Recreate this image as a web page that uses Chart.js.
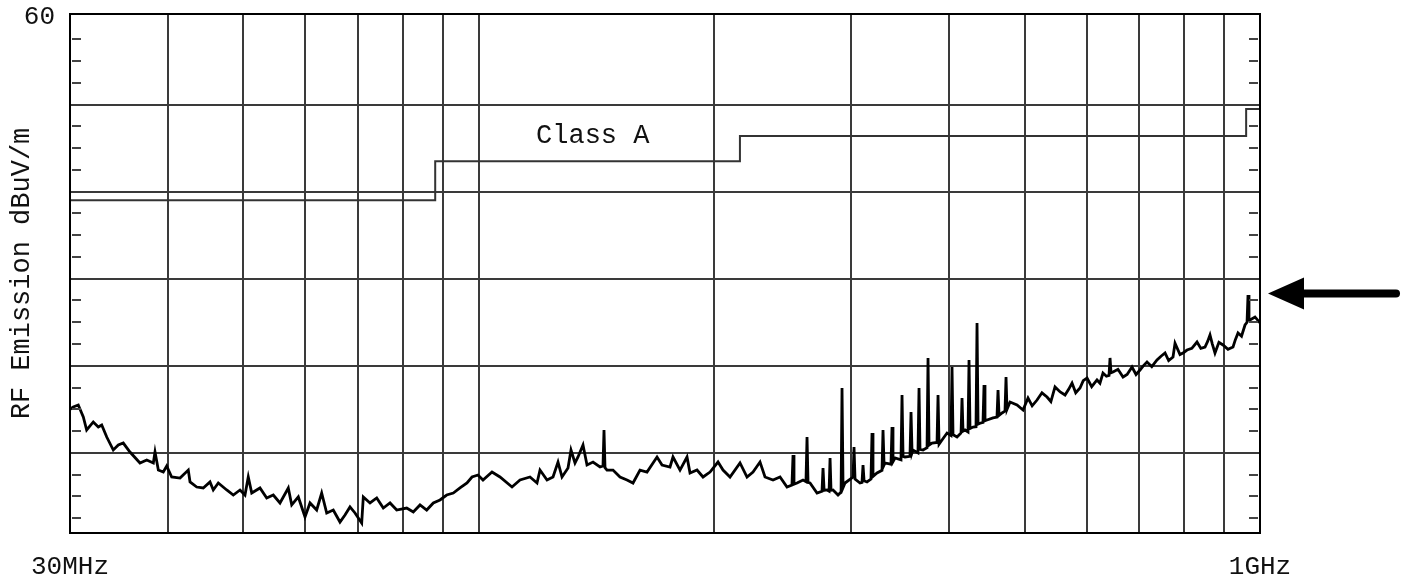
<!DOCTYPE html>
<html>
<head>
<meta charset="utf-8">
<script src="https://cdn.jsdelivr.net/npm/chart.js@4.4.1/dist/chart.umd.min.js"></script>
<style>
  html, body { margin: 0; padding: 0; background: #fff; }
  #wrap { width: 1403px; height: 577px; }
</style>
</head>
<body>
<div id="wrap"><canvas id="emission" width="1403" height="577"></canvas></div>
<script>
const traceFreq = [
    30.0, 30.29, 30.74, 31.20, 31.51, 32.13, 32.61, 32.94, 33.43, 34.08,
    34.59, 35.10, 35.80, 36.87, 37.61, 38.35, 38.54, 38.92, 39.49, 39.89,
    40.48, 41.49, 42.51, 42.73, 43.58, 44.43, 45.32, 45.76, 46.44, 47.61,
    48.54, 49.51, 50.24, 50.73, 51.25, 52.51, 53.56, 54.61, 55.70, 57.08,
    57.66, 58.79, 59.96, 60.85, 62.06, 62.98, 63.92, 65.17, 66.47, 67.46,
    68.46, 69.48, 70.86, 71.20, 72.62, 74.07, 75.52, 77.03, 78.56, 80.91,
    82.50, 84.15, 85.82, 87.51, 89.25, 91.03, 92.82, 94.67, 96.64, 98.08,
    99.83, 101.31, 104.03, 106.51, 110.35, 112.98, 116.36, 118.79, 119.84, 122.34,
    124.52, 126.37, 127.87, 130.15, 131.30, 132.86, 134.04, 136.03, 137.64, 140.10,
    143.02, 144.28, 144.71, 145.14, 146.00, 148.60, 151.70, 154.86, 157.62, 160.91,
    164.26, 169.18, 171.69, 175.78, 177.34, 181.04, 184.81, 186.46, 190.34, 193.74,
    197.78, 202.49, 205.50, 209.78, 216.05, 220.56, 224.49, 229.17, 232.57, 238.12,
    243.09, 248.15, 251.8, 252.58, 253.3, 255.57, 260.13, 262.4, 263.22, 264.0,
    265.55, 271.09, 275.1, 275.92, 276.8, 279.2, 280.9, 281.7, 282.5, 284.17,
    288.39, 291.0, 291.81, 292.7, 294.40, 301.42, 302.31, 303.2, 307.70, 309.5,
    310.44, 311.4, 314.12, 317.8, 318.78, 319.7, 323.51, 328.3, 329.28, 330.3,
    331.23, 337.1, 338.13, 339.1, 341.14, 347.2, 348.25, 349.3, 351.34, 356.5,
    357.61, 358.7, 359.72, 365.0, 366.14, 367.2, 370.48, 374.9, 375.98, 377.1,
    380.44, 386.1, 387.23, 388.4, 391.81, 397.63, 402.3, 403.53, 404.7, 409.52,
    414.4, 415.60, 416.8, 419.29, 423.0, 424.26, 425.5, 429.29, 433.1, 434.38,
    435.7, 438.3, 442.1, 443.43, 444.7, 447.37, 455.35, 460.7, 462.11, 463.5,
    467.59, 471.7, 473.13, 474.5, 478.75, 488.72, 497.44, 504.8, 511, 518.4,
    526, 533.9, 540, 546.6, 555, 563.0, 569, 574.7, 581, 588.4,
    594, 600.7, 609, 618.6, 624, 629.6, 636, 640.9, 642.8, 644.7,
    648.5, 658, 667.9, 676, 685.8, 694, 702.2, 709, 716.8, 727,
    738.2, 747, 755.9, 764, 773.9, 778.5, 790.0, 798, 806.5, 818,
    830.6, 840, 850.4, 857, 863.0, 869, 875.8, 886, 896.7, 910,
    923.6, 930, 937.3, 947, 956.8, 962.5, 965.3, 968.1, 971.0, 985.4, 1000
];
const traceLevel = [
    15.0, 15.27, 15.50, 14.12, 12.63, 13.55, 12.97, 13.20, 11.82, 10.33,
    10.90, 11.13, 10.10, 8.84, 9.18, 8.84, 10.10, 8.03, 7.80, 8.49,
    7.23, 7.11, 8.03, 6.66, 6.08, 5.97, 6.66, 5.74, 6.54, 5.74,
    5.16, 5.74, 5.16, 7.23, 5.39, 5.97, 4.82, 5.16, 4.25, 5.97,
    4.02, 4.94, 2.64, 4.25, 3.44, 5.39, 3.10, 3.44, 2.06, 2.87,
    3.79, 3.10, 1.95, 4.94, 4.25, 4.82, 3.67, 4.25, 3.44, 3.67,
    3.21, 4.02, 3.44, 4.25, 4.59, 5.16, 5.39, 5.97, 6.54, 7.23,
    7.46, 6.89, 7.80, 7.23, 6.08, 6.89, 7.23, 6.54, 8.03, 6.89,
    7.23, 8.95, 7.23, 8.26, 10.33, 8.84, 9.53, 10.90, 8.61, 8.95,
    8.38, 8.50, 12.63, 8.30, 8.03, 8.03, 7.23, 6.89, 6.54, 8.03,
    7.80, 9.53, 8.61, 8.38, 9.53, 8.03, 9.53, 7.69, 8.03, 7.23,
    7.80, 8.95, 8.03, 7.23, 8.84, 7.23, 7.80, 8.95, 7.23, 6.89,
    7.23, 6.08, 6.30, 9.76, 6.40, 6.54, 6.89, 6.70, 11.82, 6.60,
    6.54, 5.39, 5.60, 8.26, 5.70, 5.74, 5.60, 9.41, 5.70, 5.74,
    5.16, 5.50, 17.45, 6.00, 6.54, 7.23, 10.68, 7.00, 6.54, 6.60,
    8.61, 6.80, 6.66, 7.00, 12.28, 7.30, 7.69, 8.00, 12.63, 8.60,
    8.84, 8.70, 12.97, 9.00, 9.41, 9.20, 16.65, 9.60, 9.53, 9.60,
    14.69, 10.00, 10.33, 10.00, 17.45, 10.40, 10.33, 10.60, 20.90, 10.90,
    11.13, 11.20, 16.65, 11.00, 11.48, 12.28, 12.00, 19.86, 12.10, 11.82,
    12.30, 16.30, 12.50, 12.63, 12.40, 20.67, 12.80, 12.97, 13.00, 24.92,
    13.30, 13.40, 13.50, 17.80, 13.70, 13.78, 14.01, 14.10, 17.22, 14.30,
    14.58, 14.80, 18.71, 15.00, 15.84, 15.50, 14.92, 16.30, 15.40, 16.07,
    16.90, 16.42, 15.90, 17.57, 17.00, 16.65, 17.30, 18.02, 16.90, 17.45,
    18.30, 18.60, 17.60, 18.37, 18.00, 19.17, 18.80, 18.90, 20.90, 19.20,
    19.29, 19.60, 18.71, 19.00, 19.86, 19.00, 19.52, 20.00, 20.44, 19.90,
    20.67, 21.10, 21.47, 20.60, 21.01, 22.60, 21.30, 21.50, 21.81, 22.00,
    22.73, 22.00, 22.16, 22.80, 23.54, 22.50, 21.47, 22.70, 22.39, 21.90,
    22.16, 23.00, 23.77, 23.40, 24.69, 25.00, 28.13, 25.30, 25.26, 25.61, 24.92
];

// Class A limit, stepped
const limitFreq = [30, 88, 216, 960, 1000];
const limitLevel = [39, 43.5, 46.4, 49.5, 49.5];

const xTickValues = [30, 40, 50, 60, 70, 80, 90, 100, 200, 300, 400, 500, 600, 700, 800, 900, 1000];
const xTickLabels = ['30MHz', '', '', '', '', '', '', '', '', '', '', '', '', '', '', '', '1GHz'];
const yTickValues = [10, 20, 30, 40, 50, 60];
const yTickLabels = ['', '', '', '', '', '60'];

const limitName = 'Class A';
const limitNameAt = [140, 46.4];   // MHz, dBuV/m
const arrowLevel = 28.3;

const mono = '"Liberation Mono", "DejaVu Sans Mono", monospace';
const gridColor = '#3a3a3a';

const frame = {
    id: 'frame',
    afterDatasetsDraw(chart) {
        const { ctx, chartArea: a, scales: { x, y } } = chart;
        ctx.save();

        // small ticks every 2.5 dB on both inner edges
        ctx.strokeStyle = '#444';
        ctx.lineWidth = 2;
        ctx.beginPath();
        for (let v = 2.5; v < 60; v += 2.5) {
            if (v % 10 === 0 || v < y.min) continue;
            const py = Math.round(y.getPixelForValue(v));
            ctx.moveTo(a.left + 2, py);
            ctx.lineTo(a.left + 11, py);
            ctx.moveTo(a.right - 11, py);
            ctx.lineTo(a.right - 2, py);
        }
        ctx.stroke();

        ctx.strokeStyle = '#000';
        ctx.lineWidth = 2;
        ctx.strokeRect(a.left, a.top, a.right - a.left, a.bottom - a.top);

        ctx.fillStyle = '#111';
        ctx.font = '27px ' + mono;
        ctx.textAlign = 'center';
        ctx.textBaseline = 'middle';
        ctx.fillText(limitName, x.getPixelForValue(limitNameAt[0]), y.getPixelForValue(limitNameAt[1]));

        // arrow pointing at the worst peak
        const ty = y.getPixelForValue(arrowLevel);
        const tx = a.right + 8;
        ctx.fillStyle = '#000';
        ctx.beginPath();
        ctx.moveTo(tx, ty);
        ctx.lineTo(tx + 36, ty - 16);
        ctx.lineTo(tx + 36, ty + 16);
        ctx.closePath();
        ctx.fill();
        ctx.strokeStyle = '#000';
        ctx.lineWidth = 8;
        ctx.lineCap = 'round';
        ctx.beginPath();
        ctx.moveTo(tx + 30, ty);
        ctx.lineTo(tx + 128, ty);
        ctx.stroke();

        ctx.restore();
    },
};

new Chart(document.getElementById('emission'), {
    type: 'line',
    data: {
        datasets: [
            {
                data: limitFreq.map((f, i) => ({ x: f, y: limitLevel[i] })),
                stepped: true,
                borderColor: '#333',
                borderWidth: 2,
                pointRadius: 0,
                fill: false,
            },
            {
                data: traceFreq.map((f, i) => ({ x: f, y: traceLevel[i] })),
                borderColor: '#000',
                borderWidth: 2.8,
                pointRadius: 0,
                tension: 0,
                fill: false,
            },
        ],
    },
    options: {
        responsive: false,
        animation: false,
        layout: { padding: { top: 14, right: 143, bottom: 0, left: 0 } },
        plugins: { legend: { display: false }, tooltip: { enabled: false } },
        scales: {
            x: {
                type: 'logarithmic',
                min: 30,
                max: 1000,
                afterBuildTicks: s => { s.ticks = xTickValues.map(v => ({ value: v })); },
                afterFit: s => { s.height = 44; s.paddingLeft = 0; s.paddingRight = 0; },
                grid: { color: gridColor, lineWidth: 2, drawTicks: false },
                border: { display: false },
                ticks: {
                    autoSkip: false,
                    maxRotation: 0,
                    padding: 19,
                    color: '#111',
                    font: { family: mono, size: 26 },
                    callback: (v, i) => xTickLabels[i],
                },
            },
            y: {
                type: 'linear',
                min: 0.8,
                max: 60.4,
                afterBuildTicks: s => { s.ticks = yTickValues.map(v => ({ value: v })); },
                afterFit: s => { s.width = 70; s.paddingTop = 0; s.paddingBottom = 0; },
                grid: {
                    color: c => (c.tick && c.tick.value === 60 ? 'rgba(0,0,0,0)' : gridColor),
                    lineWidth: 2,
                    drawTicks: false,
                },
                border: { display: false },
                ticks: {
                    padding: 15,
                    color: '#111',
                    font: { family: mono, size: 26 },
                    callback: (v, i) => yTickLabels[i],
                },
                title: {
                    display: true,
                    text: 'RF Emission dBuV/m',
                    color: '#111',
                    font: { family: mono, size: 27 },
                    padding: { top: 6, bottom: 0 },
                },
            },
        },
    },
    plugins: [frame],
});
</script>
</body>
</html>
